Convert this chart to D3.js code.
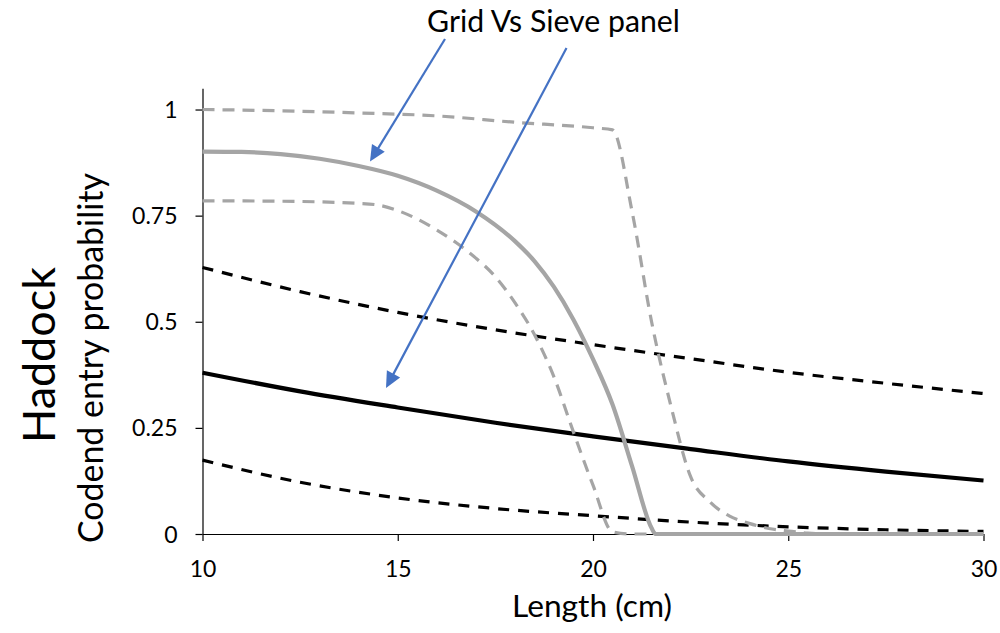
<!DOCTYPE html>
<html><head><meta charset="utf-8">
<script src="https://cdn.jsdelivr.net/npm/d3@7"></script>
<style>body{margin:0;background:#fff}svg{display:block}text{font-family:Lato,"Open Sans",sans-serif}</style>
</head><body>
<svg id="c" width="1000" height="633"></svg>
<script>
// ---- data ----
const grayMeanLen  = [10,11,12,13,14,15,16,17,18,18.5,19,19.5,20,20.5,21,21.5,21.6,22,30];
const grayMeanP    = [0.901,0.900,0.895,0.884,0.867,0.844,0.809,0.760,0.690,0.643,0.582,0.505,0.412,0.305,0.160,0.014,0,0,0];
const grayUpperLen = [10,12,14,16,18,20,20.5,21,21.5,22,22.5,23,23.5,24,24.5,25,25.5,26,30];
const grayUpperP   = [1.0,0.997,0.992,0.985,0.970,0.957,0.952,0.76,0.50,0.30,0.135,0.075,0.042,0.025,0.013,0.007,0.002,0,0];
const grayLowerLen = [10,12,14,14.5,15,15.5,16,16.5,17,17.5,18,18.5,19,19.5,20,20.5,21,30];
const grayLowerP   = [0.785,0.784,0.779,0.775,0.762,0.742,0.716,0.686,0.650,0.606,0.545,0.470,0.37,0.24,0.115,0.005,0,0];
const blackLen     = [10,12.5,15,17.5,20,22.5,25,27.5,30];
const blackMeanP   = [0.380,0.336,0.298,0.262,0.230,0.200,0.171,0.147,0.126];
const blackUpperP  = [0.628,0.571,0.522,0.481,0.446,0.413,0.381,0.355,0.331];
const blackLowerP  = [0.174,0.122,0.085,0.060,0.043,0.028,0.017,0.010,0.006];
const yTickValues  = [0,0.25,0.5,0.75,1];
const yTickLabels  = ["0","0.25","0.5","0.75","1"];
const xTickValues  = [10,15,20,25,30];
const titleText = "Grid Vs Sieve panel";
const speciesText = "Haddock";
const yTitleText = "Codend entry probability";
const xTitleText = "Length (cm)";

// ---- layout ----
const svg = d3.select("#c");
const x = d3.scaleLinear().domain([10,30]).range([202.5,983.5]);
const y = d3.scaleLinear().domain([0,1.05]).range([534,88.3]);

function fit(t, w){ const b=parseFloat(t.attr("font-size")); const m=t.node().getComputedTextLength(); t.attr("font-size", b*w/m); }

const line = d3.line().x(d=>x(d[0])).y(d=>y(d[1])).curve(d3.curveMonotoneX);
const zip = (a,b)=>a.map((v,i)=>[v,b[i]]);

const series = [
  {d:zip(blackLen,blackUpperP), c:"#000", w:3.2, dash:"11,9"},
  {d:zip(blackLen,blackLowerP), c:"#000", w:3.2, dash:"11,9"},
  {d:zip(blackLen,blackMeanP),  c:"#000", w:4.2, dash:null},
  {d:zip(grayUpperLen,grayUpperP), c:"#A5A5A5", w:3.2, dash:"12,8"},
  {d:zip(grayLowerLen,grayLowerP), c:"#A5A5A5", w:3.2, dash:"12,8"},
  {d:zip(grayMeanLen,grayMeanP),   c:"#A5A5A5", w:4.2, dash:null},
];

// axes
const ya = svg.append("g").attr("transform","translate(202.5,0)")
  .call(d3.axisLeft(y).tickValues(yTickValues).tickFormat((d,i)=>yTickLabels[i]).tickSize(7).tickSizeOuter(0).tickPadding(18));
const xa = svg.append("g").attr("transform","translate(0,534)")
  .call(d3.axisBottom(x).tickValues(xTickValues).tickFormat(d3.format("d")).tickSize(7).tickSizeOuter(0));
[ya,xa].forEach(a=>{a.selectAll("path,line").attr("stroke","#000").attr("stroke-width",1.2);
  a.selectAll("text").attr("font-size",23).attr("fill","#000").style("font-family","Lato");});
ya.selectAll("text").attr("dy","0.35em");
xa.selectAll("text").attr("y",43).attr("dy",0);

// lines
svg.append("g").selectAll("path").data(series).join("path")
  .attr("d",s=>line(s.d)).attr("fill","none").attr("stroke",s=>s.c)
  .attr("stroke-width",s=>s.w).attr("stroke-dasharray",s=>s.dash);

// titles
const xt = svg.append("text").attr("x",592).attr("y",617).attr("text-anchor","middle").attr("font-size",28).text(xTitleText);
fit(xt,160);
const ht = svg.append("text").attr("transform","translate(55,355) rotate(-90)").attr("text-anchor","middle").attr("font-size",40).text(speciesText);
fit(ht,176);
const yt = svg.append("text").attr("transform","translate(103,358) rotate(-90)").attr("text-anchor","middle").attr("font-size",28).text(yTitleText);
fit(yt,370);

svg.append("defs").html('<clipPath id="tc"><rect x="0" y="0" width="1000" height="37"/></clipPath>');
const tt = svg.append("text").attr("clip-path","url(#tc)").attr("x",553.5).attr("y",31.5).attr("text-anchor","middle").attr("font-size",26).text(titleText);
fit(tt,253);

// arrows
const arrows = [[[445,39],[370,161.5]],[[566.5,48],[386,388]]];
const ag = svg.append("g");
arrows.forEach(([a,b])=>{
  const dx=b[0]-a[0], dy=b[1]-a[1], L=Math.hypot(dx,dy), ux=dx/L, uy=dy/L;
  const hl=16, hw=7.5;
  const bx=b[0]-ux*hl, by=b[1]-uy*hl;
  ag.append("line").attr("x1",a[0]).attr("y1",a[1]).attr("x2",bx+ux*2).attr("y2",by+uy*2)
    .attr("stroke","#4472C4").attr("stroke-width",2.2);
  ag.append("path").attr("fill","#4472C4")
    .attr("d",`M${b[0]},${b[1]}L${bx-uy*hw},${by+ux*hw}L${bx+uy*hw},${by-ux*hw}Z`);
});
</script>
</body></html>
